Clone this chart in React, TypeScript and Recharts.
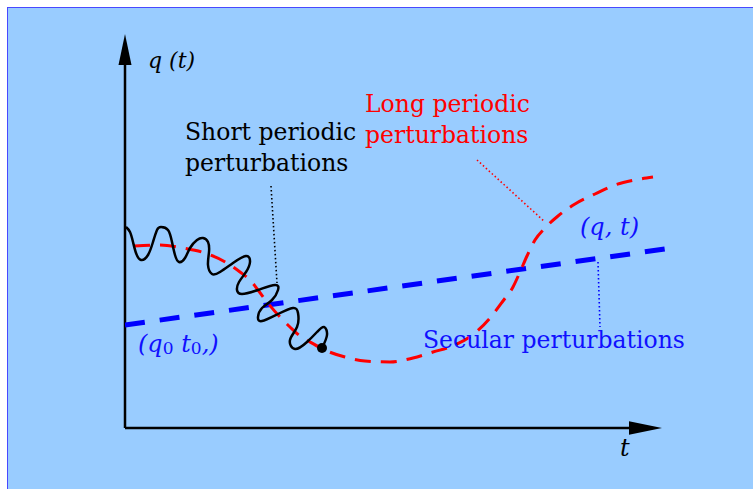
import React from 'react';
import { LineChart, Line, XAxis, YAxis, ReferenceLine, ReferenceDot } from 'recharts';

// Units: t along the horizontal axis, q along the vertical axis (arbitrary units)
const secular: [number, number][] = [
  [0, 103],
  [540, 179],
];

const longPeriodic: [number, number][] = [
  [9, 182], [35, 183], [58, 180], [80, 175], [102, 165], [115, 156], [125, 148],
  [133, 138], [142, 126], [155, 111], [165, 101], [175, 92], [185, 86], [202, 77],
  [220, 71], [240, 67], [265, 66], [288, 70], [308, 76], [330, 83], [350, 95],
  [365, 110], [378, 127], [388, 141], [395, 156], [402, 172], [410, 188], [420, 200],
  [433, 212], [450, 224], [470, 234], [490, 243], [510, 248], [528, 251],
];

const shortPeriodic: [number, number][] = [
  [1, 201], [5, 196], [8, 186], [11, 175], [16, 168], [23, 173], [28, 186], [32, 198],
  [36, 201], [43, 198], [47, 186], [50, 173], [54, 166], [60, 170], [65, 180], [72, 188],
  [78, 190], [83, 186], [84, 176], [83, 163], [87, 154], [95, 156], [108, 165], [121, 172],
  [125, 166], [121, 156], [114, 146], [112, 138], [117, 134], [133, 138], [150, 143],
  [153, 138], [147, 128], [137, 120], [133, 111], [137, 107], [153, 114], [168, 120],
  [173, 115], [172, 101], [165, 88], [170, 79], [182, 86], [192, 96], [199, 101],
  [202, 93], [197, 80],
];

const startPoint: [number, number] = [197, 80];

const leaders = [
  { from: [146, 242], to: [152, 145], color: '#000000' },
  { from: [352, 268], to: [420, 206], color: '#ff0000' },
  { from: [473, 166], to: [475, 101], color: '#0000ff' },
];

const labels = [
  { x: 60, y: 288, text: 'Short periodic', color: '#000000' },
  { x: 60, y: 257, text: 'perturbations', color: '#000000' },
  { x: 240, y: 316, text: 'Long periodic', color: '#ff0000' },
  { x: 240, y: 285, text: 'perturbations', color: '#ff0000' },
  { x: 298, y: 80, text: 'Secular perturbations', color: '#1010ff' },
];

const X_MAX = 545;
const Y_MAX = 400;
const X_ARROW_TIP = 537;
const Y_ARROW_TIP = 394;

const toObjs = (arr: [number, number][]) => arr.map(([x, y]) => ({ x, y }));

const FONT = '"DejaVu Serif", serif';

export default function App() {
  return (
    <div style={{ position: 'absolute', left: 0, top: 0, width: 753, height: 489, background: '#ffffff', overflow: 'hidden' }}>
      <div
        style={{
          position: 'absolute', left: 7, top: 7, right: 0, bottom: 0,
          background: '#99ccff', borderLeft: '1px solid #4848ff', borderTop: '1px solid #4848ff',
        }}
      />
      <div style={{ position: 'absolute', left: 0, top: 0 }}>
        <LineChart width={753} height={489} margin={{ top: 28, right: 83, bottom: 61, left: 125 }}>
          <XAxis type="number" dataKey="x" domain={[0, X_MAX]} allowDataOverflow hide />
          <YAxis type="number" dataKey="y" domain={[0, Y_MAX]} allowDataOverflow hide />

          {/* axes */}
          <ReferenceLine segment={[{ x: 0, y: 0 }, { x: 0, y: Y_ARROW_TIP - 28 }]} stroke="#000" strokeWidth={2.5} ifOverflow="visible" />
          <ReferenceLine segment={[{ x: 0, y: 0 }, { x: X_ARROW_TIP - 30, y: 0 }]} stroke="#000" strokeWidth={2.5} ifOverflow="visible" />
          <ReferenceDot
            x={0} y={Y_ARROW_TIP} ifOverflow="visible"
            shape={(p: any) => (
              <polygon points={`${p.cx},${p.cy} ${p.cx - 6.5},${p.cy + 31} ${p.cx + 6.5},${p.cy + 31}`} fill="#000" />
            )}
          />
          <ReferenceDot
            x={X_ARROW_TIP} y={0} ifOverflow="visible"
            shape={(p: any) => (
              <polygon points={`${p.cx},${p.cy} ${p.cx - 33},${p.cy - 6.7} ${p.cx - 33},${p.cy + 6.7}`} fill="#000" />
            )}
          />

          {/* leader lines */}
          {leaders.map((l, i) => (
            <ReferenceLine
              key={'ld' + i}
              segment={[{ x: l.from[0], y: l.from[1] }, { x: l.to[0], y: l.to[1] }]}
              stroke={l.color} strokeWidth={1.6} strokeDasharray="1.5 2.5" ifOverflow="visible"
            />
          ))}

          <Line data={toObjs(secular)} dataKey="y" type="linear" stroke="#0000ff" strokeWidth={5}
            strokeDasharray="20 15" dot={false} activeDot={false} isAnimationActive={false} />
          <Line data={toObjs(longPeriodic)} dataKey="y" type="monotone" stroke="#ff0000" strokeWidth={3}
            strokeDasharray="16 10" dot={false} activeDot={false} isAnimationActive={false} />
          <Line data={toObjs(shortPeriodic)} dataKey="y" type="natural" stroke="#000000" strokeWidth={2.5}
            dot={false} activeDot={false} isAnimationActive={false} />

          <ReferenceDot x={startPoint[0]} y={startPoint[1]} r={5} fill="#000" stroke="none" ifOverflow="visible" />

          {/* text annotations */}
          {labels.map((lb, i) => (
            <ReferenceDot
              key={'lb' + i} x={lb.x} y={lb.y} ifOverflow="visible"
              shape={(p: any) => (
                <text x={p.cx} y={p.cy} fill={lb.color} fontFamily={FONT} fontSize={23.5}>{lb.text}</text>
              )}
            />
          ))}
          <ReferenceDot
            x={23} y={360} ifOverflow="visible"
            shape={(p: any) => (
              <text x={p.cx} y={p.cy} fill="#000" fontFamily={FONT} fontStyle="italic" fontSize={22}>q (t)</text>
            )}
          />
          <ReferenceDot
            x={495} y={-28} ifOverflow="visible"
            shape={(p: any) => (
              <text x={p.cx} y={p.cy} fill="#000" fontFamily={FONT} fontStyle="italic" fontSize={24}>t</text>
            )}
          />
          <ReferenceDot
            x={455} y={193} ifOverflow="visible"
            shape={(p: any) => (
              <text x={p.cx} y={p.cy} fill="#1010ff" fontFamily={FONT} fontStyle="italic" fontSize={24}>(q, t)</text>
            )}
          />
          <ReferenceDot
            x={13} y={76} ifOverflow="visible"
            shape={(p: any) => (
              <text x={p.cx} y={p.cy} fill="#1010ff" fontFamily={FONT} fontStyle="italic" fontSize={24}>
                (q<tspan fontStyle="normal" fontSize={17} dy={2}>0</tspan>
                <tspan dy={-2}> t</tspan>
                <tspan fontStyle="normal" fontSize={17} dy={2}>0</tspan>
                <tspan dy={-2}>,)</tspan>
              </text>
            )}
          />
        </LineChart>
      </div>
    </div>
  );
}
